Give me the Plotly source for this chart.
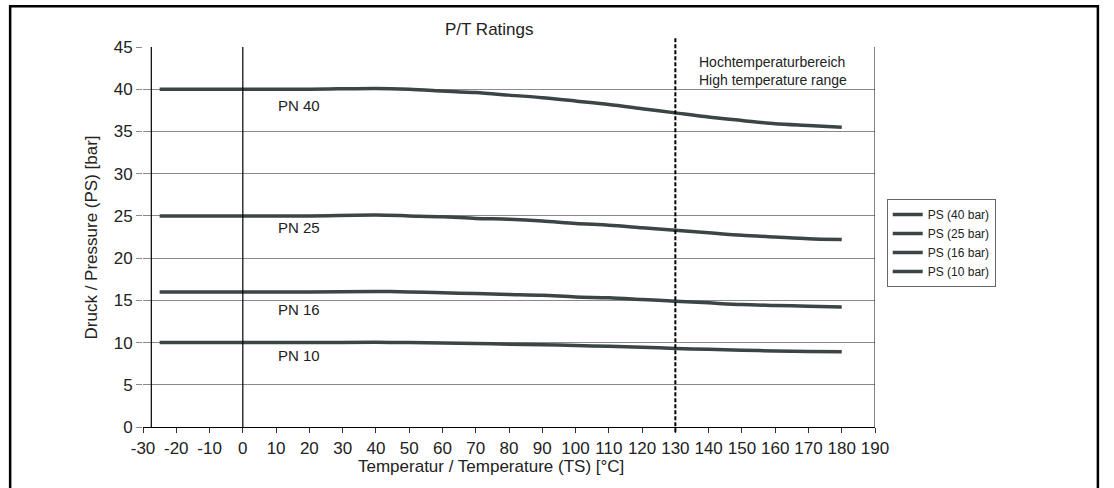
import plotly.graph_objects as go

temps = [-25, 0, 20, 40, 50, 60, 70, 80, 90, 100, 110, 120, 130, 140, 150, 160, 170, 180]
ps40 = [40, 40, 40, 40.1, 40.0, 39.8, 39.6, 39.3, 39.0, 38.6, 38.2, 37.7, 37.2, 36.7, 36.3, 35.9, 35.7, 35.5]
ps25 = [25, 25, 25, 25.1, 25.0, 24.9, 24.7, 24.6, 24.4, 24.1, 23.9, 23.6, 23.3, 23.0, 22.7, 22.5, 22.3, 22.2]
ps16 = [16, 16, 16, 16.05, 16.0, 15.9, 15.8, 15.7, 15.6, 15.4, 15.3, 15.1, 14.9, 14.7, 14.5, 14.4, 14.3, 14.2]
ps10 = [10, 10, 10, 10.03, 10.0, 9.95, 9.9, 9.8, 9.75, 9.65, 9.55, 9.45, 9.3, 9.2, 9.1, 9.0, 8.95, 8.9]
series_names = ["PS (40 bar)", "PS (25 bar)", "PS (16 bar)", "PS (10 bar)"]
pn_labels = ["PN 40", "PN 25", "PN 16", "PN 10"]
pn_label_y = [38.1, 23.6, 13.9, 8.45]
x_ticks = list(range(-30, 191, 10))
y_ticks = list(range(0, 46, 5))

LINE = "#3b4545"
GRID = "#8a8a8a"
FONT = "Liberation Sans, Arial, sans-serif"

fig = go.Figure()
for name, vals in zip(series_names, [ps40, ps25, ps16, ps10]):
    fig.add_trace(go.Scatter(x=temps, y=vals, mode="lines", name=name,
                             line=dict(color=LINE, width=3.5, shape="spline", smoothing=0.8)))

annotations = []
for lbl, yy in zip(pn_labels, pn_label_y):
    annotations.append(dict(x=10, y=yy, xref="x", yref="y", text=lbl, showarrow=False,
                            xanchor="left", yanchor="middle", font=dict(size=15, color="#222")))
annotations.append(dict(x=136.5, y=42.2, xref="x", yref="y",
                        text="Hochtemperaturbereich<br>High temperature range",
                        showarrow=False, xanchor="left", yanchor="middle", align="left",
                        font=dict(size=14, color="#222")))
annotations.append(dict(x=0.474, y=1.045, xref="paper", yref="paper", text="P/T Ratings",
                        showarrow=False, xanchor="center", yanchor="middle",
                        font=dict(size=17, color="#222")))
annotations.append(dict(x=0.4755, y=-0.105, xref="paper", yref="paper",
                        text="Temperatur / Temperature (TS) [°C]",
                        showarrow=False, xanchor="center", yanchor="middle",
                        font=dict(size=17, color="#222")))
annotations.append(dict(x=-0.0704, y=0.5, xref="paper", yref="paper",
                        text="Druck / Pressure (PS) [bar]", textangle=-90,
                        showarrow=False, xanchor="center", yanchor="middle",
                        font=dict(size=17, color="#222")))

shapes = [
    dict(type="line", xref="x", yref="y", x0=-27.5, x1=-27.5, y0=0, y1=45,
         line=dict(color="black", width=1.2)),
    dict(type="line", xref="x", yref="y", x0=0, x1=0, y0=0, y1=45,
         line=dict(color="black", width=1.2)),
    dict(type="line", xref="x", yref="y", x0=190, x1=190, y0=0, y1=45,
         line=dict(color="#333", width=1.2)),
    dict(type="line", xref="x", yref="paper", x0=130, x1=130, y0=-0.014, y1=1.024,
         line=dict(color="black", width=2, dash="4px,2px")),
    dict(type="rect", xref="paper", yref="paper", x0=-0.1815, x1=1.3045, y0=-0.2, y1=1.1075,
         line=dict(color="black", width=2.5), fillcolor="rgba(0,0,0,0)", layer="above"),
]

fig.update_layout(
    width=1114, height=488,
    margin=dict(l=143, r=239, t=47, b=61),
    paper_bgcolor="white", plot_bgcolor="white",
    font=dict(family=FONT, size=17, color="#222"),
    showlegend=True,
    legend=dict(x=1.016, y=0.6, xanchor="left", yanchor="top",
                bordercolor="#666", borderwidth=1, bgcolor="white",
                font=dict(size=12, color="#222"), tracegroupgap=0, itemwidth=30),
    xaxis=dict(range=[-30, 190], tickvals=x_ticks, ticktext=[str(v) for v in x_ticks],
               showgrid=False, zeroline=False, showline=True, linecolor="black", linewidth=1.2,
               ticks="outside", ticklen=5, tickcolor="#333", tickfont=dict(size=17),
               fixedrange=True),
    yaxis=dict(range=[0, 45], tickvals=y_ticks, ticktext=[str(v) for v in y_ticks],
               showgrid=True, gridcolor=GRID, gridwidth=1, zeroline=False, showline=False,
               ticks="outside", ticklen=6, tickcolor=GRID, tickfont=dict(size=17),
               fixedrange=True),
    annotations=annotations,
    shapes=shapes,
)

fig.write_html("out.html", config={"displayModeBar": False},
               post_script="document.body.style.margin='0';document.body.style.overflow='hidden';")
